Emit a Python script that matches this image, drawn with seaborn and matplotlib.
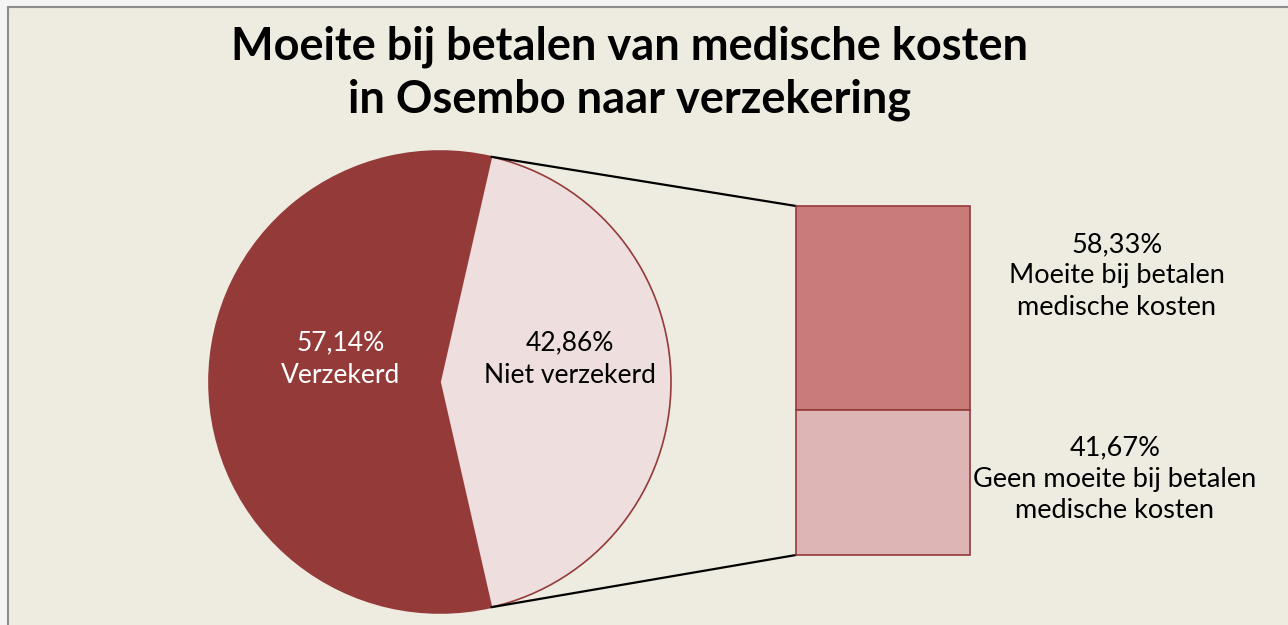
import numpy as np
import matplotlib
matplotlib.use("Agg")
import matplotlib.pyplot as plt
import seaborn as sns
from matplotlib.patches import Rectangle

# data
pie_labels = ["Verzekerd", "Niet verzekerd"]
pie_values = [57.14, 42.86]
bar_labels = ["Moeite bij betalen\nmedische kosten", "Geen moeite bij betalen\nmedische kosten"]
bar_values = [58.33, 41.67]
title = "Moeite bij betalen van medische kosten\nin Osembo naar verzekering"

sns.set_style("white")
plt.rcParams["font.family"] = ["Lato", "DejaVu Sans"]
plt.rcParams["text.color"] = "black"

bg = "#EEEBE0"
dark = "#943B3A"
light = "#EEDEDE"
bar_colors = ["#C97B7A", "#DEB5B5"]


def pct(v):
    return f"{v:.2f}%".replace(".", ",")


W, H = 1288, 625
fig = plt.figure(figsize=(W / 100, H / 100), dpi=100, facecolor="#F4F4F4")
ax = fig.add_axes([0, 0, 1, 1])
ax.set_axis_off()

# frame
ax.add_patch(Rectangle((8, 7), W + 20, H + 20, facecolor=bg, edgecolor="#8C8C8C", lw=1.5, zorder=0))

# pie, dark slice centred on the left
cx, cy, r = 440, 382, 231
start = 180 - pie_values[0] / 100 * 180
wedges, _ = ax.pie(pie_values, colors=[dark, light], startangle=start, counterclock=True,
                   center=(cx, cy), radius=r, frame=True,
                   wedgeprops=dict(edgecolor=dark, linewidth=1.2))

ax.text(341, 359, pct(pie_values[0]) + "\n" + pie_labels[0],
        ha="center", va="center", color="white", fontsize=19, linespacing=1.4)
ax.text(570, 359, pct(pie_values[1]) + "\n" + pie_labels[1],
        ha="center", va="center", color="black", fontsize=19, linespacing=1.4)

# stacked bar
bx, bw, btop, bh = 796, 174, 206, 349
bottoms = [btop, btop + bar_values[0] / 100 * bh]
for v, b, c in zip(bar_values, bottoms, bar_colors):
    ax.bar(bx + bw / 2, v / 100 * bh, bottom=b, width=bw, color=c, edgecolor=dark, linewidth=1.2, zorder=3)

# connector lines from the light slice edges
ang = np.deg2rad(pie_values[1] / 100 * 180)
ax.plot([cx + r * np.cos(ang), bx], [cy - r * np.sin(ang), btop], color="black", lw=1.6, zorder=2)
ax.plot([cx + r * np.cos(ang), bx], [cy + r * np.sin(ang), btop + bh], color="black", lw=1.6, zorder=2)

# bar labels
xcent = [1117, 1115]
ycent = [276, 479]
for v, lab, x, y in zip(bar_values, bar_labels, xcent, ycent):
    ax.text(x, y, pct(v) + "\n" + lab, ha="center", va="center",
            fontsize=19.5, color="black", linespacing=1.32)

ax.text(630, 73, title, ha="center", va="center", fontsize=32.5, fontweight="bold",
        color="black", linespacing=1.3)

ax.set_xlim(0, W)
ax.set_ylim(H, 0)
ax.set_aspect("equal")
ax.set_position([0, 0, 1, 1])

fig.savefig("out.png", dpi=100, facecolor=fig.get_facecolor())
